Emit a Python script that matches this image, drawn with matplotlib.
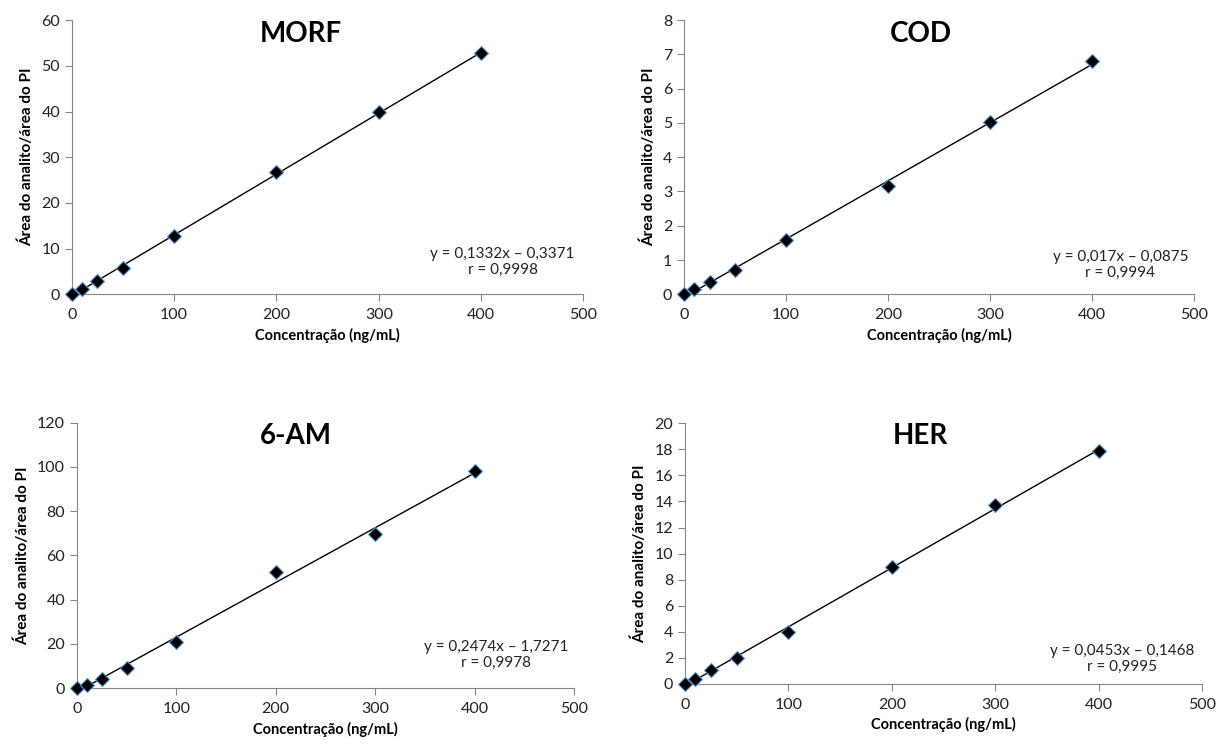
import matplotlib
matplotlib.use("Agg")
import matplotlib.pyplot as plt
import numpy as np

plt.rcParams['font.family'] = ['Lato', 'DejaVu Sans']

# concentrations (ng/mL)
conc = [0, 10, 25, 50, 100, 200, 300, 400]

# area ratio analyte / internal standard
morf = [0, 1.2, 3.0, 5.8, 12.8, 26.8, 40.0, 52.7]
cod = [0, 0.15, 0.35, 0.72, 1.58, 3.17, 5.03, 6.80]
am6 = [0, 1.5, 4.0, 9.0, 20.8, 52.3, 69.5, 98.2]
her = [0, 0.4, 1.05, 2.0, 4.0, 8.95, 13.7, 17.85]

names = ["MORF", "COD", "6-AM", "HER"]
slopes = [0.1332, 0.017, 0.2474, 0.0453]
intercepts = [-0.3371, -0.0875, -1.7271, -0.1468]
eq_text = ["y = 0,1332x – 0,3371\nr = 0,9998",
           "y = 0,017x – 0,0875\nr = 0,9994",
           "y = 0,2474x – 1,7271\nr = 0,9978",
           "y = 0,0453x – 0,1468\nr = 0,9995"]
ymax = [60, 8, 120, 20]
ystep = [10, 1, 20, 2]

series = [morf, cod, am6, her]

# axes rectangles [left, bottom, width, height]
rects = [[0.059, 0.605, 0.420, 0.368],
         [0.5616, 0.605, 0.419, 0.368],
         [0.0632, 0.0765, 0.408, 0.356],
         [0.5624, 0.0819, 0.4245, 0.350]]
title_x = [0.447, 0.465, 0.44, 0.455]
eq_pos = [(0.842, 0.117), (0.855, 0.107), (0.844, 0.125), (0.846, 0.097)]

fig = plt.figure(figsize=(12.18, 7.45), dpi=100)
gray = '#868686'

for i in range(4):
    ax = fig.add_axes(rects[i])
    xs = np.array([0, 400])
    ax.plot(xs, slopes[i] * xs + intercepts[i], color='black', linewidth=1, zorder=2)
    ax.plot(conc, series[i], linestyle='none', marker='D', markersize=7,
            markerfacecolor='black', markeredgecolor='#5b8fd0', markeredgewidth=0.8,
            zorder=3, clip_on=False)
    ax.set_xlim(0, 500)
    ax.set_ylim(0, ymax[i])
    ax.set_xticks(np.arange(0, 501, 100))
    ax.set_yticks(np.arange(0, ymax[i] + ystep[i] / 2, ystep[i]))
    ax.spines['top'].set_visible(False)
    ax.spines['right'].set_visible(False)
    ax.spines['left'].set_color(gray)
    ax.spines['bottom'].set_color(gray)
    ax.tick_params(axis='both', direction='out', length=5, color=gray,
                   labelsize=11.5, labelcolor='#222222')
    ax.tick_params(axis='x', pad=5)
    ax.set_xlabel("Concentração (ng/mL)", fontsize=10.5, fontweight='bold', labelpad=4)
    ax.set_ylabel("Área do analito/área do PI", fontsize=11, fontweight='bold', labelpad=5)
    ax.text(title_x[i], 0.95, names[i], transform=ax.transAxes, ha='center', va='center',
            fontsize=20, fontweight='bold')
    ax.text(eq_pos[i][0], eq_pos[i][1], eq_text[i], transform=ax.transAxes, ha='center',
            va='center', fontsize=11, linespacing=1.2, color='#222222')

fig.savefig("out.png", dpi=100)
